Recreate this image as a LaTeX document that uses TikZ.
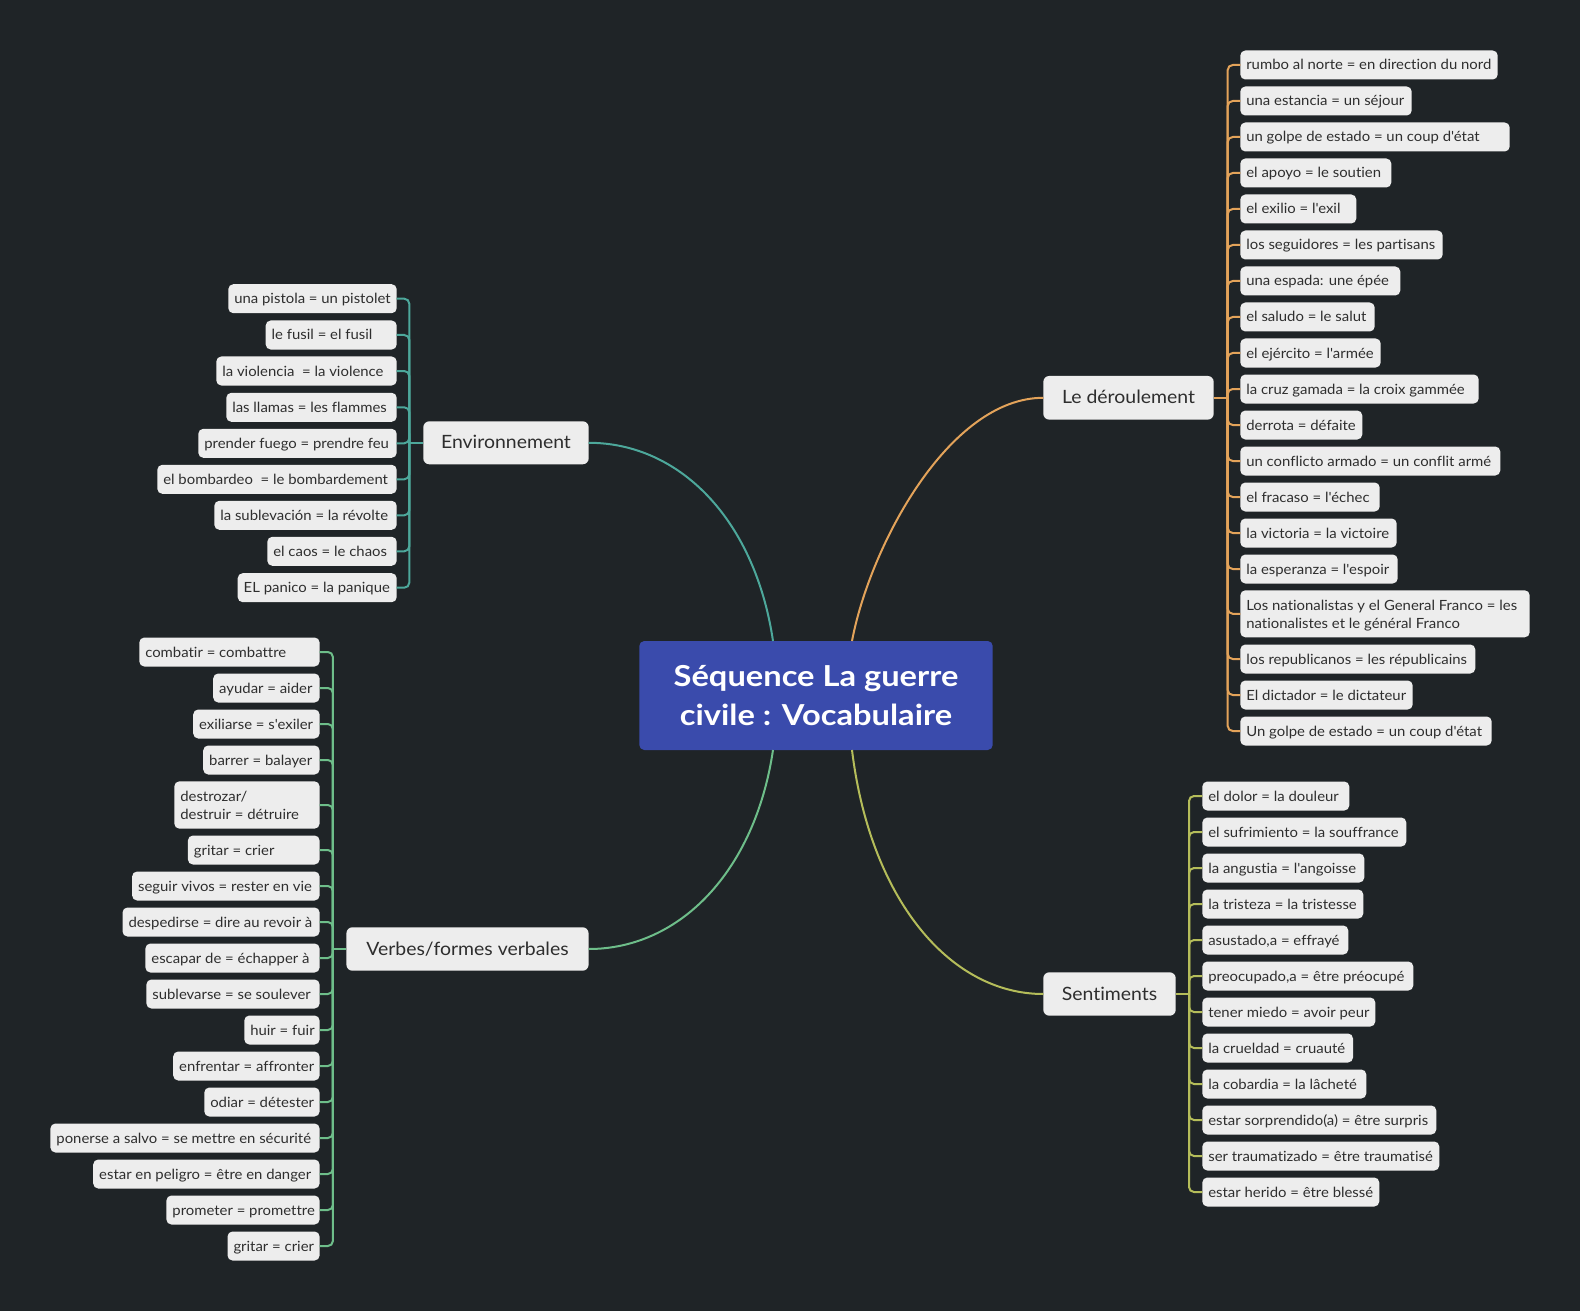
\documentclass[tikz,border=0pt]{standalone}
\usepackage{fontspec}
\setmainfont{Lato}[Ligatures={TeXOff,NoCommon}, FakeStretch=1.06]
\newfontfamily\titlefont{Lato}[Ligatures={TeXOff,NoCommon}, FakeStretch=1.13]
\definecolor{bg}{RGB}{31,36,39}
\definecolor{boxfill}{RGB}{237,237,237}
\definecolor{txt}{RGB}{46,46,46}
\definecolor{rootfill}{RGB}{58,75,172}
\definecolor{cEnv}{RGB}{77,168,155}
\definecolor{cDer}{RGB}{227,163,90}
\definecolor{cVer}{RGB}{110,190,138}
\definecolor{cSen}{RGB}{181,189,90}
\tikzset{
  leafbox/.style={fill=boxfill, rounded corners=5bp, inner xsep=6bp, inner ysep=0pt,
    minimum height=29bp, outer sep=0pt, text=txt, anchor=west,
    text height=13.5bp, text depth=3.5bp,
    font=\fontsize{14.1}{18}\selectfont},
  topicbox/.style={fill=boxfill, rounded corners=6bp, inner sep=0pt, outer sep=0pt,
    text=txt, text height=16bp, text depth=4bp, font=\fontsize{18.4}{22}\selectfont},
  rootbox/.style={fill=rootfill, rounded corners=5bp, inner sep=0pt, outer sep=0pt,
    text=white, align=center, font=\titlefont\fontsize{29}{40}\selectfont\bfseries},
  link/.style={line width=2bp},
  twig/.style={line width=2bp, rounded corners=5bp},
}
% \leaf[extra]{name}{left x}{right x}{centre y}{text}
\newcommand\leaf[6][]{%
  \pgfmathsetmacro\leafw{#4-#3}%
  \node[leafbox, minimum width=\leafw bp, #1] (#2) at (#3,#5)
    {\makebox[\dimexpr\leafw bp-12bp\relax][l]{#6}};}
\newcommand\twolines[2]{\raisebox{-2bp}[\height][\depth]{\begin{tabular}{@{}l@{}}#1\\#2\end{tabular}}}
\tikzset{tall/.style={minimum height=#1, text height=, text depth=}}
\begin{document}
\begin{tikzpicture}[x=1bp,y=-1bp]
\path[fill=bg] (0,0) rectangle (1580,1311);

% central topic
\node[rootbox, minimum width=353.4bp, minimum height=109bp] (root) at (816,695.5)
  {Séquence La guerre\\civile : Vocabulaire};
\coordinate (rTL) at (773,641);
\coordinate (rTR) at (852,641);
\coordinate (rBL) at (773,750);
\coordinate (rBR) at (852,750);

% main topics
\node[topicbox, minimum width=165.4bp, minimum height=43bp] (env) at (506,442.8) {Environnement};
\node[topicbox, minimum width=242.2bp, minimum height=43.4bp] (ver) at (467.5,949) {Verbes/formes verbales};
\node[topicbox, minimum width=170.4bp, minimum height=43.7bp] (der) at (1128.5,397.8) {Le déroulement};
\node[topicbox, minimum width=132.4bp, minimum height=43.4bp] (sen) at (1109.5,994) {Sentiments};

% branches from the centre
\draw[link, cEnv] (env.east) .. controls (680,442.8) and (755,520) .. (rTL);
\draw[link, cDer] (der.west) .. controls (949,397.8) and (870,546) .. (rTR);
\draw[link, cVer] (ver.east) .. controls (680,949) and (755,871) .. (rBL);
\draw[link, cSen] (sen.west) .. controls (949,994) and (870,898) .. (rBR);

% Environnement
\leaf{e1}{228.3}{396.7}{298.7}{una pistola = un pistolet}
\leaf{e2}{265.7}{396.7}{335}{le fusil = el fusil}
\leaf{e3}{216.3}{396.7}{371}{la violencia\ \ = la violence}
\leaf{e4}{226.3}{396.7}{407.3}{las llamas = les flammes}
\leaf{e5}{198.3}{396.7}{443.3}{prender fuego = prendre feu}
\leaf{e6}{157.3}{396.7}{479.3}{el bombardeo\ \ = le bombardement}
\leaf{e7}{214.3}{396.7}{515.3}{la sublevación = la révolte}
\leaf{e8}{267.3}{396.7}{551.3}{el caos = le chaos}
\leaf{e9}{237.7}{396.7}{587.7}{EL panico = la panique}
\coordinate (envhub) at (409.3,442.8);
\draw[link, cEnv] (env.west) -- (envhub);
\foreach \n in {e1,e2,e3,e4,e5,e6,e7,e8,e9}
  \draw[twig, cEnv] (envhub) |- (\n.east);

% Verbes/formes verbales
\leaf{v1}{139.3}{319.6}{652}{combatir = combattre}
\leaf{v2}{213.2}{319.6}{688}{ayudar = aider}
\leaf{v3}{193.2}{319.6}{724}{exiliarse = s'exiler}
\leaf{v4}{203.2}{319.6}{760}{barrer = balayer}
\leaf[tall=47.3bp]{v5}{174.3}{319.6}{805}{\twolines{destrozar/}{destruir = détruire}}
\leaf{v6}{187.9}{319.6}{850}{gritar = crier}
\leaf{v7}{132.1}{319.6}{886}{seguir vivos = rester en vie}
\leaf{v8}{122.5}{319.6}{922}{despedirse = dire au revoir à}
\leaf{v9}{145.4}{319.6}{958}{escapar de = échapper à}
\leaf{v10}{146.4}{319.6}{994}{sublevarse = se soulever}
\leaf{v11}{244.3}{319.6}{1030}{huir = fuir}
\leaf{v12}{173.2}{319.6}{1066}{enfrentar = affronter}
\leaf{v13}{204.3}{319.6}{1102}{odiar = détester}
\leaf{v14}{50.4}{319.6}{1138}{ponerse a salvo = se mettre en sécurité}
\leaf{v15}{93.2}{319.6}{1174}{estar en peligro = être en danger}
\leaf{v16}{166.4}{319.6}{1210}{prometer = promettre}
\leaf{v17}{227.5}{319.6}{1246}{gritar = crier}
\coordinate (verhub) at (332.9,949);
\draw[link, cVer] (ver.west) -- (verhub);
\foreach \n in {v1,v2,v3,v4,v5,v6,v7,v8,v9,v10,v11,v12,v13,v14,v15,v16,v17}
  \draw[twig, cVer] (verhub) |- (\n.east);

% Le déroulement
\leaf{d1}{1240.3}{1497.7}{65}{rumbo al norte = en direction du nord}
\leaf{d2}{1240.3}{1411.7}{101}{una estancia = un séjour}
\leaf{d3}{1240.3}{1509.7}{137}{un golpe de estado = un coup d'état}
\leaf{d4}{1240.3}{1391.3}{173}{el apoyo = le soutien}
\leaf{d5}{1240.3}{1356.3}{209}{el exilio = l'exil}
\leaf{d6}{1240.3}{1442.7}{245}{los seguidores = les partisans}
\leaf{d7}{1240.3}{1400.3}{281}{una espada: une épée}
\leaf{d8}{1240.3}{1374.7}{317}{el saludo = le salut}
\leaf{d9}{1240.3}{1380.7}{353}{el ejército = l'armée}
\leaf{d10}{1240.3}{1478.7}{389}{la cruz gamada = la croix gammée}
\leaf{d11}{1240.3}{1362.3}{425}{derrota = défaite}
\leaf{d12}{1240.3}{1500.3}{461}{un conflicto armado = un conflit armé}
\leaf{d13}{1240.3}{1379.7}{497}{el fracaso = l'échec}
\leaf{d14}{1240.3}{1396.7}{533}{la victoria = la victoire}
\leaf{d15}{1240.3}{1397.7}{569}{la esperanza = l'espoir}
\leaf[tall=47bp]{d16}{1240.3}{1529.7}{613.8}{\twolines{Los nationalistas y el General Franco = les}{nationalistes et le général Franco}}
\leaf{d17}{1240.3}{1475.3}{659}{los republicanos = les républicains}
\leaf{d18}{1240.3}{1412.7}{695}{El dictador = le dictateur}
\leaf{d19}{1240.3}{1491.7}{731}{Un golpe de estado = un coup d'état}
\coordinate (derhub) at (1227.7,397.8);
\draw[link, cDer] (der.east) -- (derhub);
\foreach \n in {d1,d2,d3,d4,d5,d6,d7,d8,d9,d10,d11,d12,d13,d14,d15,d16,d17,d18,d19}
  \draw[twig, cDer] (derhub) |- (\n.west);

% Sentiments
\leaf{s1}{1202.3}{1349.3}{796}{el dolor = la douleur}
\leaf{s2}{1202.3}{1406.3}{832}{el sufrimiento = la souffrance}
\leaf{s3}{1202.3}{1364.3}{868}{la angustia = l'angoisse}
\leaf{s4}{1202.3}{1363.3}{904}{la tristeza = la tristesse}
\leaf{s5}{1202.3}{1348.3}{940}{asustado,a = effrayé}
\leaf{s6}{1202.3}{1413.3}{976}{preocupado,a = être préocupé}
\leaf{s7}{1202.3}{1375.3}{1012}{tener miedo = avoir peur}
\leaf{s8}{1202.3}{1353}{1048}{la crueldad = cruauté}
\leaf{s9}{1202.3}{1366.3}{1084}{la cobardia = la lâcheté}
\leaf{s10}{1202.3}{1436.3}{1120}{estar sorprendido(a) = être surpris}
\leaf{s11}{1202.3}{1439.3}{1156}{ser traumatizado = être traumatisé}
\leaf{s12}{1202.3}{1379.3}{1192}{estar herido = être blessé}
\coordinate (senhub) at (1189,994);
\draw[link, cSen] (sen.east) -- (senhub);
\foreach \n in {s1,s2,s3,s4,s5,s6,s7,s8,s9,s10,s11,s12}
  \draw[twig, cSen] (senhub) |- (\n.west);
\end{tikzpicture}
\end{document}
